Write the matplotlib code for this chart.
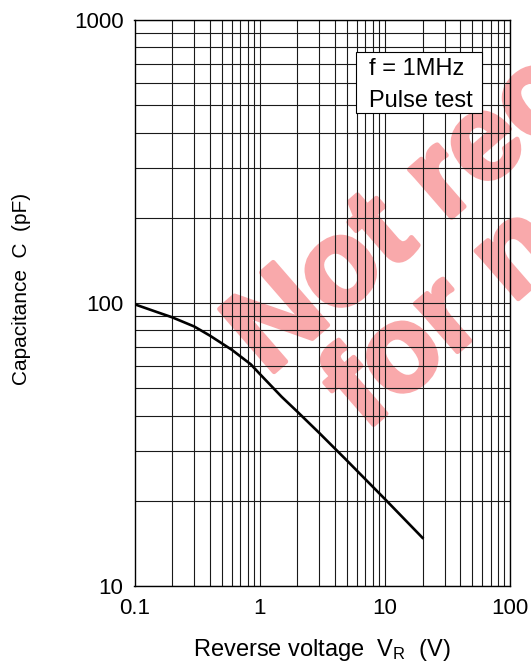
import matplotlib.pyplot as plt
import matplotlib.patheffects as pe
from matplotlib.patches import Rectangle
from matplotlib.ticker import FixedLocator, NullFormatter

plt.rcParams['font.family'] = ['Liberation Sans', 'DejaVu Sans']
plt.rcParams['mathtext.default'] = 'regular'

####  Data  ####################################################################
reverse_v = [0.1, 0.15, 0.2, 0.3, 0.4, 0.6, 0.85, 1, 1.5, 2, 3, 5, 10, 20]
cap_pf = [99, 93, 89, 82.6, 76.7, 68.3, 60.7, 56.2, 46.6, 41.3, 34.7, 27.7,
          20.3, 14.8]

x_ticks = [0.1, 1, 10, 100]
x_labels = ['0.1', '1', '10', '100']
y_ticks = [10, 100, 1000]
y_labels = ['10', '100', '1000']

W, H = 531, 668


def fx(px):
    return px / W


def fy(py):
    return 1 - py / H


####  Figure  ##################################################################
fig = plt.figure(figsize=(W / 100, H / 100), dpi=100)
ax = fig.add_axes([fx(134.5), fy(586), fx(510 - 134.5), (586 - 20) / H])
ax.set_facecolor('none')

# watermark, under the grid
wm_col = '#f9a9ab'
wm = dict(color=wm_col, fontsize=87, fontweight='bold', rotation=41,
          rotation_mode='anchor', ha='left', va='baseline', zorder=-5,
          path_effects=[pe.withStroke(linewidth=3.5, foreground=wm_col)])
fig.text(fx(268), fy(377), 'Not recommended', **wm)
fig.text(fx(365), fy(432), 'for new design', **wm)

ax.plot(reverse_v, cap_pf, color='black', lw=1.9, zorder=3)

ax.set_xscale('log')
ax.set_yscale('log')
ax.set_xlim(0.1, 100)
ax.set_ylim(10, 1000)

minor = [m * 10.0 ** e for e in range(-1, 3) for m in range(2, 10)]
ax.xaxis.set_major_locator(FixedLocator(x_ticks))
ax.yaxis.set_major_locator(FixedLocator(y_ticks))
ax.xaxis.set_minor_locator(FixedLocator(minor))
ax.yaxis.set_minor_locator(FixedLocator(minor))
ax.xaxis.set_minor_formatter(NullFormatter())
ax.yaxis.set_minor_formatter(NullFormatter())
ax.set_xticklabels(x_labels)
ax.set_yticklabels(y_labels)
ax.tick_params(which='both', length=0, labelsize=16)
ax.tick_params(axis='x', pad=9)
ax.tick_params(axis='y', pad=8)

ax.grid(which='both', color='#1a1a1a', lw=0.8)
ax.set_axisbelow(True)
for s in ax.spines.values():
    s.set_linewidth(1.0)

# condition box
ax.add_patch(Rectangle((0.589, 0.835), 0.337, 0.108, transform=ax.transAxes,
                       fc='white', ec='black', lw=0.8, zorder=5))
ax.text(0.6245, 0.9028, 'f = 1MHz', transform=ax.transAxes, fontsize=17,
        ha='left', va='baseline', zorder=6)
ax.text(0.6245, 0.8468, 'Pulse test', transform=ax.transAxes, fontsize=17,
        ha='left', va='baseline', zorder=6)

fig.text(fx(322), fy(650), 'Reverse voltage  V$_R$  (V)', fontsize=17,
         ha='center', va='center')
fig.text(fx(22), fy(289), 'Capacitance  C  (pF)', fontsize=15,
         rotation=90, ha='center', va='center')

fig.savefig('out.png', dpi=100)
